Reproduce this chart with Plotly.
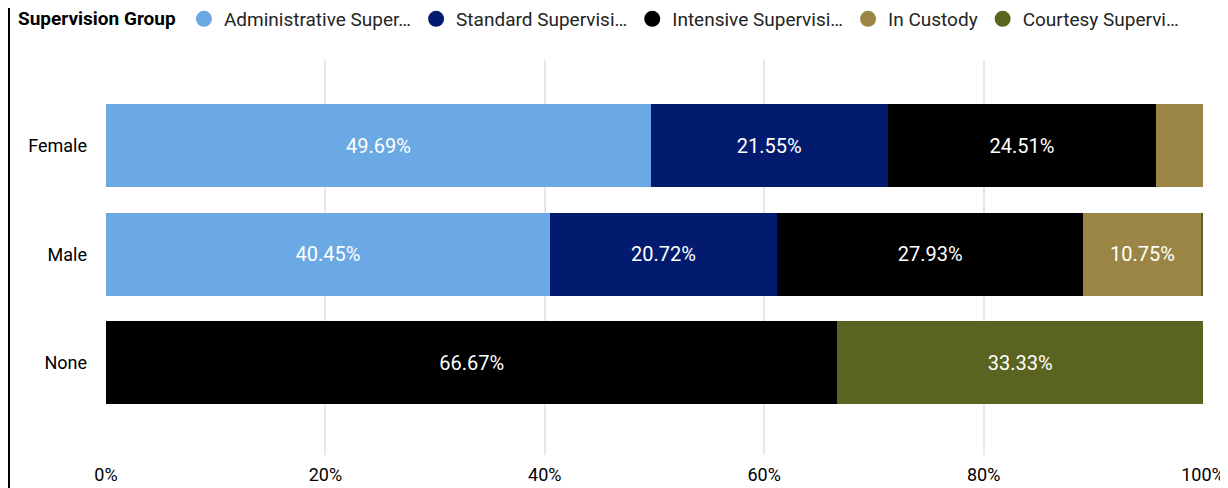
import plotly.graph_objects as go

categories = ["Female", "Male", "None"]
series_names = ["Administrative Supervision", "Standard Supervision", "Intensive Supervision",
                "In Custody", "Courtesy Supervision"]
legend_labels = ["Administrative Super…", "Standard Supervisi…", "Intensive Supervisi…",
                 "In Custody", "Courtesy Supervi…"]
admin = [49.69, 40.45, 0]
standard = [21.55, 20.72, 0]
intensive = [24.51, 27.93, 66.67]
custody = [4.25, 10.75, 0]
courtesy = [0, 0.15, 33.33]
colors = ["#6AA9E3", "#021B6E", "#000000", "#9A8545", "#5A6320"]
x_ticks = [0, 20, 40, 60, 80, 100]
x_tick_labels = ["0%", "20%", "40%", "60%", "80%", "100%"]

FONT = "Roboto"
# page body has an 8px margin; figure is sized to fill the rest of the window
W, H = 1220, 480
ML, MR, MT, MB = 98, 25, 52, 33

fig = go.Figure()
for name, lab, vals, col in zip(series_names, legend_labels,
                                [admin, standard, intensive, custody, courtesy], colors):
    txt = [f"{v:.2f}%" if v >= 5 else "" for v in vals]
    fig.add_trace(go.Bar(
        y=categories, x=vals, orientation="h", name=name, marker=dict(color=col, line=dict(width=0)),
        text=txt, textposition="inside", insidetextanchor="middle", textangle=0,
        constraintext="none",
        textfont=dict(color="white", size=20, family=FONT), showlegend=False,
        hoverinfo="x+y+name",
    ))
    fig.add_trace(go.Scatter(
        x=[None], y=[None], mode="markers", name=lab,
        marker=dict(color=col, size=19, symbol="circle"), showlegend=True,
    ))

fig.update_layout(
    width=W, height=H, barmode="stack", bargap=0.235,
    margin=dict(l=ML, r=MR, t=MT, b=MB),
    paper_bgcolor="white", plot_bgcolor="white",
    font=dict(family=FONT, size=18, color="#252423"),
    legend=dict(
        orientation="h", traceorder="normal",
        xref="container", yref="container", x=8 / W, y=1 - 11 / H,
        xanchor="left", yanchor="middle",
        title=dict(text="<b>Supervision Group</b>", font=dict(size=19, color="#000000")),
        font=dict(size=19, color="#252423"), itemwidth=30, tracegroupgap=0,
    ),
    xaxis=dict(range=[0, 100], tickvals=x_ticks, ticktext=x_tick_labels, showgrid=True,
               gridcolor="#E8E8E8", gridwidth=2, zeroline=False, showline=False,
               ticklabelstandoff=7, automargin=False, ticklabeloverflow="allow",
               tickfont=dict(size=18, color="#000000")),
    yaxis=dict(categoryorder="array", categoryarray=categories, range=[2.85, -0.79],
               showgrid=False, zeroline=False, showline=False, ticks="",
               ticklabelstandoff=18, automargin=False,
               tickfont=dict(size=18, color="#000000")),
    shapes=[dict(type="line", xref="paper", yref="paper",
                 x0=(1 - ML) / (W - ML - MR), x1=(1 - ML) / (W - ML - MR),
                 y0=-MB / (H - MT - MB), y1=1 + MT / (H - MT - MB),
                 line=dict(color="#000000", width=2))],
)

fig.write_html("out.html")
